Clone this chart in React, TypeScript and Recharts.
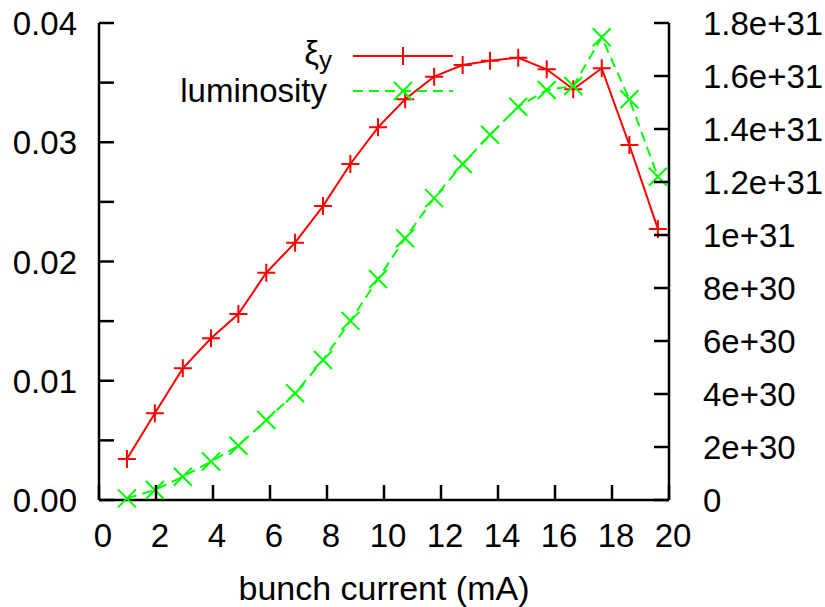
import React from "react";
import { LineChart, Line, XAxis, YAxis, Legend, Label } from "recharts";

// bunch current (mA)
const current = [0.98, 1.96, 2.94, 3.93, 4.89, 5.87, 6.88, 7.86, 8.82, 9.79, 10.74, 11.76, 12.76, 13.72, 14.71, 15.71, 16.64, 17.64, 18.61, 19.61];
// beam-beam parameter, left axis
const xiY = [0.00344, 0.00727, 0.01104, 0.01356, 0.0156, 0.01906, 0.02158, 0.02465, 0.02818, 0.03125, 0.0336, 0.0355, 0.03648, 0.03684, 0.03709, 0.03612, 0.03444, 0.0362, 0.02977, 0.02273];
// luminosity, right axis
const luminosity = [6e28, 3.8e29, 8.8e29, 1.45e30, 2.05e30, 3.02e30, 4.03e30, 5.28e30, 6.76e30, 8.34e30, 9.88e30, 1.139e31, 1.268e31, 1.378e31, 1.484e31, 1.547e31, 1.562e31, 1.746e31, 1.512e31, 1.22e31];

const xTicks = [0, 2, 4, 6, 8, 10, 12, 14, 16, 18, 20];
const leftTicks = [0, 0.005, 0.01, 0.015, 0.02, 0.025, 0.03, 0.035, 0.04];
const leftTickLabels = ["0.00", "", "0.01", "", "0.02", "", "0.03", "", "0.04"];
const rightTicks = [0, 2e30, 4e30, 6e30, 8e30, 1e31, 1.2e31, 1.4e31, 1.6e31, 1.8e31];
const rightTickLabels = ["0", "2e+30", "4e+30", "6e+30", "8e+30", "1e+31", "1.2e+31", "1.4e+31", "1.6e+31", "1.8e+31"];
const legendOrder = ["ξ_y", "luminosity"];

const data = current.map((x, i) => ({ x, xi: xiY[i], lum: luminosity[i] }));

const RED = "#ff0000";
const GREEN = "#00ff00";
const FONT = "'Liberation Sans', Arial, sans-serif";
const TICK_LEN = 15;

const plusPath = (cx: number, cy: number) => `M${cx - 9},${cy}h18M${cx},${cy - 9}v18`;
const crossPath = (cx: number, cy: number) =>
  `M${cx - 9},${cy - 9}L${cx + 9},${cy + 9}M${cx + 9},${cy - 9}L${cx - 9},${cy + 9}`;

const PlusDot = (props: any) => {
  const { cx, cy } = props;
  if (cx == null || cy == null) return <g />;
  return <path d={plusPath(cx, cy)} stroke={RED} strokeWidth={2} fill="none" />;
};

const CrossDot = (props: any) => {
  const { cx, cy } = props;
  if (cx == null || cy == null) return <g />;
  return <path d={crossPath(cx, cy)} stroke={GREEN} strokeWidth={2} fill="none" />;
};

const BottomTick = (props: any) => {
  const { x, y, payload } = props;
  return (
    <g>
      <line x1={x} y1={y} x2={x} y2={y - TICK_LEN} stroke="#000" strokeWidth={2.5} />
      <text x={x + 4} y={y + 47} textAnchor="middle" fontSize={33} fill="#000">
        {payload.value}
      </text>
    </g>
  );
};

const TopTick = (props: any) => {
  const { x, y } = props;
  return <line x1={x} y1={y} x2={x} y2={y + TICK_LEN} stroke="#000" strokeWidth={2.5} />;
};

const LeftTick = (props: any) => {
  const { x, y, index } = props;
  return (
    <g>
      <line x1={x} y1={y} x2={x + TICK_LEN} y2={y} stroke="#000" strokeWidth={2.5} />
      <text x={x - 22} y={y + 12} textAnchor="end" fontSize={33} fill="#000">
        {leftTickLabels[index]}
      </text>
    </g>
  );
};

const RightTick = (props: any) => {
  const { x, y, index } = props;
  return (
    <g>
      <line x1={x} y1={y} x2={x - TICK_LEN} y2={y} stroke="#000" strokeWidth={2.5} />
      <text x={x + 34} y={y + 12} textAnchor="start" fontSize={33} fill="#000">
        {rightTickLabels[index]}
      </text>
    </g>
  );
};

const LegendContent = (props: any) => {
  const items = [...(props.payload || [])].sort(
    (a: any, b: any) => legendOrder.indexOf(a.value) - legendOrder.indexOf(b.value)
  );
  return (
    <svg width={825} height={110} style={{ fontFamily: FONT, overflow: "visible" }}>
      {items.map((entry: any, i: number) => {
        const ly = 56 + 35 * i;
        const name: string = entry.value;
        const [base, sub] = name.split("_");
        const dashed = entry.payload && entry.payload.strokeDasharray;
        const mx = 403;
        return (
          <g key={name}>
            <text x={sub ? 332 : 327} y={sub ? ly + 8 : ly + 11} textAnchor="end" fontSize={33} fill="#000">
              {base}
              {sub && (
                <tspan fontSize={26} dy={5}>
                  {sub}
                </tspan>
              )}
            </text>
            <line x1={353} y1={ly} x2={453} y2={ly} stroke={entry.color} strokeWidth={2} strokeDasharray={dashed} />
            <path
              d={dashed ? crossPath(mx, ly) : plusPath(mx, ly)}
              stroke={entry.color}
              strokeWidth={2}
              fill="none"
            />
          </g>
        );
      })}
    </svg>
  );
};

export default function App() {
  return (
    <div style={{ position: "absolute", left: 0, top: 0, fontFamily: FONT, background: "#fff" }}>
      <LineChart width={825} height={607} data={data} margin={{ top: 23, right: 0, bottom: 0, left: 0 }}>
        <XAxis
          dataKey="x"
          type="number"
          domain={[0, 20]}
          ticks={xTicks}
          interval={0}
          height={107}
          tickSize={0}
          tickMargin={0}
          tickLine={false}
          tick={<BottomTick />}
          axisLine={{ stroke: "#000", strokeWidth: 2.5 }}
        >
          <Label
            content={(p: any) => {
              const vb = p.viewBox;
              return (
                <text x={vb.x + vb.width / 2} y={600} textAnchor="middle" fontSize={34} fill="#000">
                  bunch current (mA)
                </text>
              );
            }}
          />
        </XAxis>
        <XAxis
          xAxisId="top"
          orientation="top"
          type="number"
          domain={[0, 20]}
          ticks={xTicks}
          interval={0}
          height={0}
          tickSize={0}
          tickMargin={0}
          tickLine={false}
          tick={<TopTick />}
          axisLine={{ stroke: "#000", strokeWidth: 2.5 }}
        />
        <YAxis
          yAxisId="left"
          type="number"
          domain={[0, 0.04]}
          ticks={leftTicks}
          interval={0}
          width={99}
          tickSize={0}
          tickMargin={0}
          tickLine={false}
          tick={<LeftTick />}
          axisLine={{ stroke: "#000", strokeWidth: 2.5 }}
        />
        <YAxis
          yAxisId="right"
          orientation="right"
          type="number"
          domain={[0, 1.8e31]}
          ticks={rightTicks}
          interval={0}
          width={156}
          tickSize={0}
          tickMargin={0}
          tickLine={false}
          tick={<RightTick />}
          axisLine={{ stroke: "#000", strokeWidth: 2.5 }}
        />
        <Legend
          layout="horizontal"
          verticalAlign="middle"
          align="center"
          wrapperStyle={{ left: 0, top: 0, width: 825, height: 110 }}
          content={<LegendContent />}
        />
        <Line
          yAxisId="left"
          dataKey="xi"
          name="ξ_y"
          type="linear"
          stroke={RED}
          strokeWidth={2}
          dot={<PlusDot />}
          isAnimationActive={false}
        />
        <Line
          yAxisId="right"
          dataKey="lum"
          name="luminosity"
          type="linear"
          stroke={GREEN}
          strokeWidth={2}
          strokeDasharray="10 6"
          dot={<CrossDot />}
          isAnimationActive={false}
        />
      </LineChart>
    </div>
  );
}
